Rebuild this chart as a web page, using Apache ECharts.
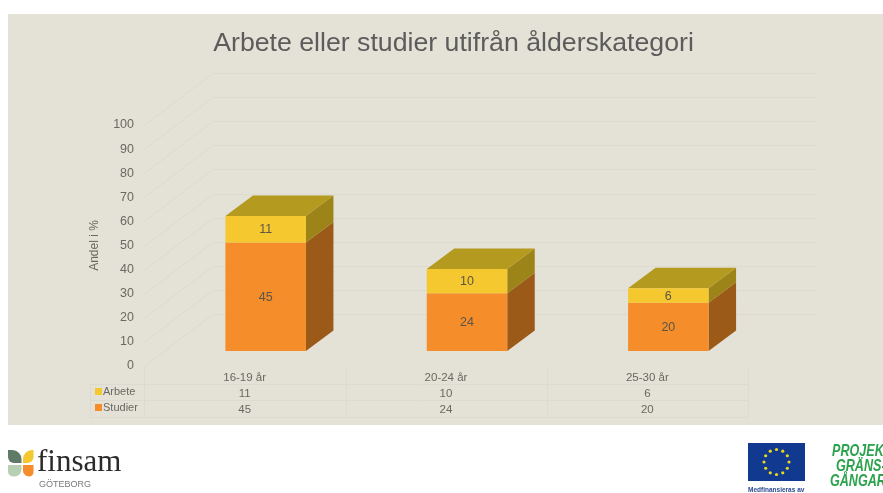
<!DOCTYPE html>
<html><head><meta charset="utf-8">
<style>html,body{margin:0;padding:0;background:#fff}#c{width:883px;height:493px}</style>
<script src="https://cdn.jsdelivr.net/npm/echarts@6/dist/echarts.min.js"></script></head>
<body><div id="c"></div>
<script>
const categories = ['16-19 år', '20-24 år', '25-30 år'];
const arbete = [11, 10, 6];
const studier = [45, 24, 20];
const yTicks = [0, 10, 20, 30, 40, 50, 60, 70, 80, 90, 100];
const FONT = '"Liberation Sans", sans-serif';
const TXT = '#6a6861';
const LINE = '#dddad0';
const chart = echarts.init(document.getElementById('c'));

function wallRender(params, api) {
  const cs = params.coordSys;
  const p = api.coord([0, api.value(0)]);
  const x0 = cs.x, y = Math.round(p[1]) + 0.5;
  return { type: 'polyline', silent: true,
    shape: { points: [[x0, y], [x0 + 69, y - 52], [x0 + 673, y - 52]] },
    style: { fill: 'none', stroke: LINE, lineWidth: 1 } };
}
function barRender(colors, withTop) {
  return function (params, api) {
    const i = api.value(0), lo = api.value(1), hi = api.value(2);
    const c = api.coord([i, 0]);
    const a = api.coord([i, lo]), b = api.coord([i, hi]);
    const ox = 21, oy = -15, w = 80.5, dx = 27.5, dy = -20.5;
    const L = c[0] + ox - w / 2, R = L + w, B = a[1] + oy, T = b[1] + oy;
    const kids = [
      { type: 'polygon', shape: { points: [[R, B], [R + dx, B + dy], [R + dx, T + dy], [R, T]] },
        style: { fill: colors.side } },
      { type: 'rect', shape: { x: L, y: T, width: w, height: B - T },
        style: { fill: colors.front } },
      { type: 'text', style: { x: L + w / 2, y: (T + B) / 2 + 0.5, text: String(hi - lo), align: 'center', verticalAlign: 'middle',
        font: '12.5px ' + FONT, fill: '#5c5647' } }
    ];
    if (withTop) kids.splice(1, 0, { type: 'polygon',
      shape: { points: [[L, T], [L + dx, T + dy], [R + dx, T + dy], [R, T]] },
      style: { fill: colors.top } });
    return { type: 'group', children: kids };
  };
}
const tableLine = (x1, y1, x2, y2) => ({ type: 'line', silent: true, z: 1,
  shape: { x1: x1 + 0.5, y1: y1 + 0.5, x2: x2 + 0.5, y2: y2 + 0.5 }, style: { stroke: LINE, lineWidth: 1 } });
const stars = [];
for (let k = 0; k < 12; k++) {
  const t = k * Math.PI / 6;
  stars.push({ type: 'circle', z: 3, shape: { cx: 776.5 + 12.5 * Math.sin(t), cy: 462 - 12.5 * Math.cos(t), r: 1.6 }, style: { fill: '#e9d81e' } });
}
const petal = (x, y, width, height, r, fill) => ({ type: 'rect', z: 3, shape: { x, y, width, height, r }, style: { fill } });
const label = (x, y, text, font, fill) => ({ type: 'text', z: 3, style: { x, y, text, font, fill, verticalAlign: 'middle' } });
const squeezed = (x, y, text) => ({ type: 'text', z: 3, x, y, scaleX: 0.74,
  style: { x: 0, y: 0, text, font: 'italic bold 17px ' + FONT, fill: '#2ba24c', verticalAlign: 'middle' } });

chart.setOption({
  animation: false,
  backgroundColor: '#ffffff',
  title: { text: 'Arbete eller studier utifrån ålderskategori', left: 448.5, top: 25, textAlign: 'center',
    textStyle: { fontFamily: FONT, fontSize: 26.7, fontWeight: 'normal', color: '#5c5c5c' } },
  legend: { orient: 'vertical', left: 95, top: 386, itemWidth: 7, itemHeight: 7, itemGap: 5,
    data: ['Arbete', 'Studier'], icon: 'rect', padding: 0,
    textStyle: { fontFamily: FONT, fontSize: 11, color: TXT, padding: [0, 0, 0, -4] } },
  grid: { left: 144, right: 135, top: 125, bottom: 127 },
  xAxis: { type: 'category', data: categories,
    axisLine: { show: false }, axisTick: { show: false },
    axisLabel: { interval: 0, margin: 4, fontFamily: FONT, fontSize: 11.5, color: TXT, lineHeight: 16,
      formatter: (v, i) => v + '\n' + arbete[i] + '\n' + studier[i] } },
  yAxis: { type: 'value', min: 0, max: 100, interval: 10,
    name: 'Andel i %', nameLocation: 'middle', nameGap: 43, nameRotate: 90,
    nameTextStyle: { fontFamily: FONT, fontSize: 12, color: TXT },
    axisLine: { show: false }, axisTick: { show: false }, splitLine: { show: false },
    axisLabel: { margin: 10, fontFamily: FONT, fontSize: 12.5, color: TXT } },
  graphic: { elements: [
    { type: 'rect', z: -10, silent: true, shape: { x: 8, y: 14, width: 875, height: 411 }, style: { fill: '#e4e1d6' } },
    tableLine(90, 384, 748, 384), tableLine(90, 400, 748, 400), tableLine(90, 417, 748, 417),
    tableLine(90, 384, 90, 417), tableLine(144, 366, 144, 417), tableLine(346, 366, 346, 417),
    tableLine(547, 366, 547, 417), tableLine(748, 366, 748, 417),
    petal(8, 450, 13.5, 13, [0, 9, 0, 6], '#5f7a66'),
    petal(23, 450, 10.5, 13, [9, 0, 6, 0], '#f4c82e'),
    petal(8, 465, 13.5, 11.5, [0, 0, 7, 5], '#b9cfb4'),
    petal(23, 465, 10.5, 11.5, [0, 0, 5, 7], '#f48d2a'),
    label(37, 463, 'finsam', '31px "Liberation Serif", serif', '#2b2b2b'),
    label(39, 485, 'GÖTEBORG', '9px "Liberation Sans", sans-serif', '#77787a'),
    { type: 'rect', z: 3, shape: { x: 748, y: 443, width: 57, height: 38 }, style: { fill: '#10398f' } },
    ...stars,
    label(748, 490, 'Medfinansieras av', 'bold 6.5px "Liberation Sans", sans-serif', '#2a4a90'),
    squeezed(832, 451, 'PROJEKT'),
    squeezed(836, 466, 'GRÄNS-'),
    squeezed(830, 481, 'GÅNGARNA')
  ] },
  series: [
    { type: 'custom', name: 'walls', silent: true, z: 1, coordinateSystem: 'cartesian2d',
      renderItem: wallRender, data: yTicks.map(v => [v]), encode: { y: 0 } },
    { type: 'custom', name: 'Studier', z: 3, itemStyle: { color: '#f48d2a' },
      renderItem: barRender({ front: '#f48d2a', side: '#9b5a17' }, false),
      data: categories.map((c, i) => [i, 0, studier[i]]), encode: { x: 0, y: 2 } },
    { type: 'custom', name: 'Arbete', z: 4, itemStyle: { color: '#f4c82e' },
      renderItem: barRender({ front: '#f4c82e', side: '#9c8418', top: '#b59a20' }, true),
      data: categories.map((c, i) => [i, studier[i], studier[i] + arbete[i]]), encode: { x: 0, y: 2 } }
  ]
});
</script></body></html>
